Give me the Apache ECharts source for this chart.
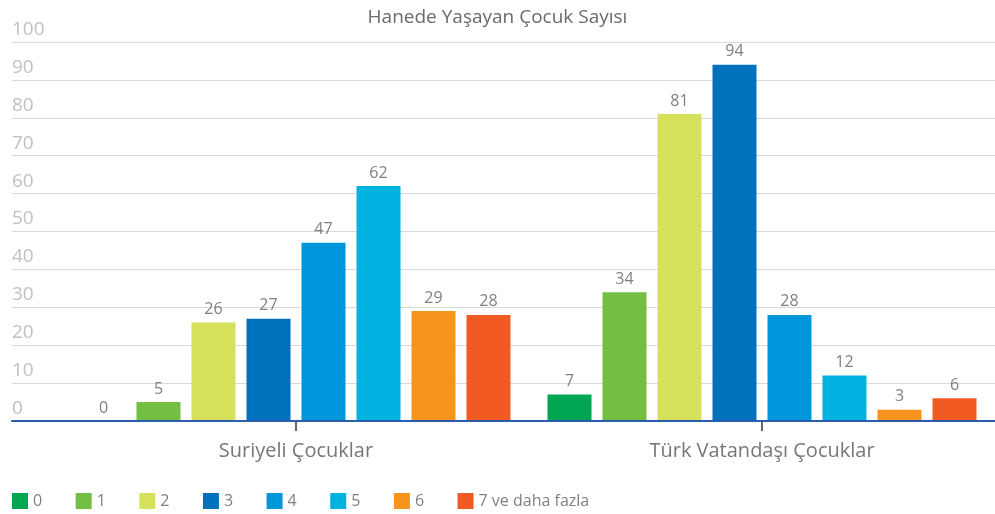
<!DOCTYPE html>
<html>
<head>
<meta charset="utf-8">
<script src="https://cdn.jsdelivr.net/npm/echarts@6/dist/echarts.min.js"></script>
<style>
  html, body { margin: 0; padding: 0; background: #fff; }
  #chart { width: 995px; height: 514px; }
</style>
</head>
<body>
<div id="chart"></div>
<script>
  // kategoriler ve seriler
  var categories = ['Suriyeli Çocuklar', 'Türk Vatandaşı Çocuklar'];
  var seriesNames = ['0', '1', '2', '3', '4', '5', '6', '7 ve daha fazla'];
  var suriyeli = [0, 5, 26, 27, 47, 62, 29, 28];
  var turk = [7, 34, 81, 94, 28, 12, 3, 6];
  var colors = ['#00a651', '#72bf44', '#d5e05b', '#0071bc', '#0096db', '#00b2e0', '#f7941d', '#f15a22'];

  var font = 'Open Sans';
  var series = [];
  for (var i = 0; i < seriesNames.length; i++) {
    series.push({
      name: seriesNames[i],
      type: 'bar',
      xAxisIndex: 0,
      yAxisIndex: 0,
      barWidth: 44,
      barGap: '25%',
      itemStyle: { color: colors[i] },
      label: {
        show: true,
        position: 'top',
        distance: 5,
        color: '#808080',
        fontFamily: font,
        fontSize: 16
      },
      data: [suriyeli[i], turk[i]]
    });
  }

  var myChart = echarts.init(document.getElementById('chart'));
  myChart.setOption({
    animation: false,
    color: colors,
    title: {
      text: 'Hanede Yaşayan Çocuk Sayısı',
      left: 'center',
      top: 3,
      textStyle: { color: '#6a6a6a', fontFamily: font, fontSize: 19, fontWeight: 'normal' }
    },
    legend: {
      data: seriesNames,
      left: 7,
      bottom: 0,
      icon: 'rect',
      itemWidth: 16,
      itemHeight: 16,
      itemGap: 33.5,
      textStyle: { color: '#808080', fontFamily: font, fontSize: 16 }
    },
    grid: [
      { left: 63, right: -4, top: 42, bottom: 93 },  // barlar
      { left: 12, right: 0, top: 42, bottom: 93 }    // arka plan çizgileri
    ],
    xAxis: [
      {
        type: 'category',
        gridIndex: 0,
        data: categories,
        axisLine: { show: false },
        axisTick: { show: true, alignWithLabel: true, length: 10, lineStyle: { color: '#666', width: 2 } },
        axisLabel: { color: '#777', fontFamily: font, fontSize: 20, margin: 20 }
      },
      {
        type: 'category',
        gridIndex: 1,
        data: [''],
        z: 5,
        axisLine: { show: true, lineStyle: { color: '#2b5ea9', width: 2 } },
        axisTick: { show: false },
        axisLabel: { show: false }
      }
    ],
    yAxis: [
      {
        type: 'value',
        gridIndex: 0,
        min: 0,
        max: 100,
        interval: 10,
        show: false,
        splitLine: { show: false }
      },
      {
        type: 'value',
        gridIndex: 1,
        min: 0,
        max: 100,
        interval: 10,
        axisLine: { show: false },
        axisTick: { show: false },
        splitLine: { lineStyle: { color: '#d9d9d9', width: 1 } },
        axisLabel: {
          inside: true,
          margin: 0,
          verticalAlign: 'bottom',
          padding: [0, 0, 3, 0],
          color: '#c0c0c0',
          fontFamily: font,
          fontSize: 19
        }
      }
    ],
    series: series
  });
</script>
</body>
</html>
